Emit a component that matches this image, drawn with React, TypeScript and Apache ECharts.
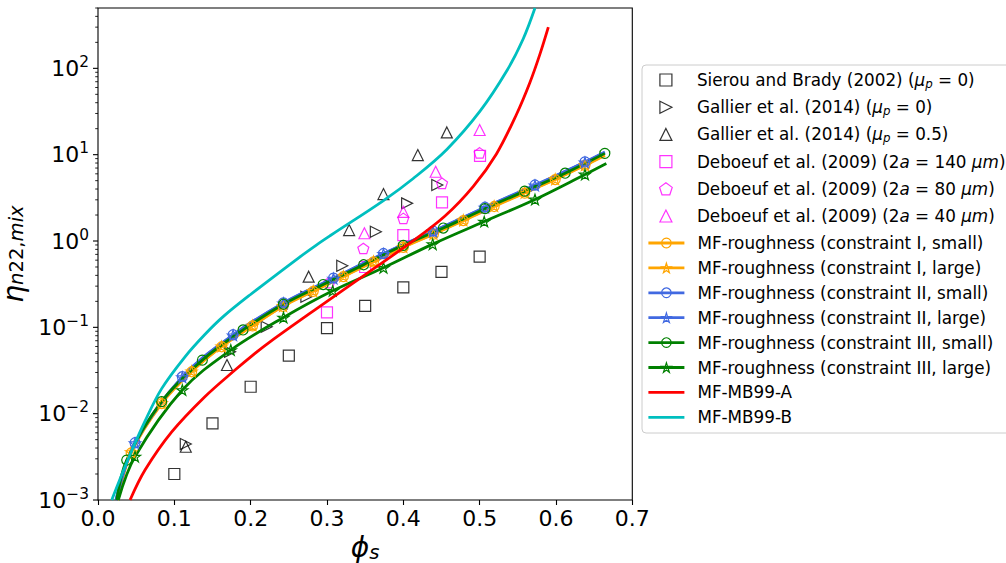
import React, { useEffect, useRef } from 'react';
import * as echarts from 'echarts';

const FONT = 'DejaVu Sans';

// ---- axis layout ----
const X_MIN = 0;
const X_MAX = 0.7;
const Y_MIN = 0.001;
const Y_MAX = 500;
const xTickStep = 0.1;
const yDecades = [0.001, 0.01, 0.1, 1, 10, 100];
const yMinorMultipliers = [2, 3, 4, 5, 6, 7, 8, 9];

// ---- simulations and experiments ----
const sierouPhi = [0.1, 0.15, 0.2, 0.25, 0.3, 0.35, 0.4, 0.45, 0.5];
const sierouEta = [0.002, 0.0077, 0.0205, 0.047, 0.098, 0.177, 0.29, 0.44, 0.66];

const gallierFrictionlessPhi = [0.115, 0.173, 0.221, 0.273, 0.32, 0.364, 0.405, 0.4445];
const gallierFrictionlessEta = [0.00445, 0.052, 0.1016, 0.226, 0.517, 1.28, 2.73, 4.45];

const gallierFrictionPhi = [0.115, 0.169, 0.276, 0.329, 0.374, 0.419, 0.457];
const gallierFrictionEta = [0.00414, 0.0366, 0.386, 1.34, 3.5, 9.9, 18.1];

const deboeuf140Phi = [0.3, 0.35, 0.4, 0.4507, 0.5005];
const deboeuf140Eta = [0.149, 0.5, 1.17, 2.8, 9.7];

const deboeuf80Phi = [0.303, 0.3476, 0.4, 0.4507, 0.5];
const deboeuf80Eta = [0.33, 0.82, 1.83, 4.66, 10.5];

const deboeuf40Phi = [0.349, 0.4, 0.4424, 0.5];
const deboeuf40Eta = [1.23, 2.18, 6.34, 19.3];

// ---- MF-roughness model: marker points of each curve ----
const mfIsmallPhi = [0.0434, 0.0834, 0.1227, 0.162, 0.2025, 0.2425, 0.282, 0.3215, 0.361, 0.4, 0.4395, 0.4786, 0.519, 0.559, 0.599, 0.638];
const mfIsmallEta = [0.0035, 0.0131, 0.0306, 0.0596, 0.104, 0.175, 0.261, 0.387, 0.574, 0.846, 1.2, 1.72, 2.51, 3.59, 5.15, 7.52];

const mfIlargePhi = [0.0434, 0.0834, 0.1227, 0.162, 0.2025, 0.2425, 0.282, 0.3215, 0.361, 0.4, 0.4395, 0.4786, 0.519, 0.559, 0.599, 0.638];
const mfIlargeEta = [0.0036, 0.0133, 0.031, 0.0603, 0.105, 0.177, 0.264, 0.392, 0.58, 0.855, 1.21, 1.74, 2.54, 3.63, 5.2, 7.6];

const mfIIsmallPhi = [0.0485, 0.1105, 0.177, 0.243, 0.3085, 0.374, 0.439, 0.507, 0.5725, 0.638];
const mfIIsmallEta = [0.0046, 0.0268, 0.082, 0.192, 0.372, 0.716, 1.3, 2.46, 4.45, 8.24];

const mfIIlargePhi = [0.0485, 0.1105, 0.177, 0.243, 0.3085, 0.374, 0.439, 0.507, 0.5725, 0.638];
const mfIIlargeEta = [0.00455, 0.0265, 0.081, 0.19, 0.368, 0.71, 1.29, 2.44, 4.4, 8.15];

const mfIIIsmallPhi = [0.0376, 0.0834, 0.1367, 0.19, 0.243, 0.295, 0.348, 0.4, 0.4524, 0.507, 0.559, 0.612, 0.664];
const mfIIIsmallEta = [0.0029, 0.0138, 0.0417, 0.0933, 0.185, 0.313, 0.531, 0.891, 1.413, 2.37, 3.78, 6.1, 10.35];

const mfIIIlargePhi = [0.0485, 0.1105, 0.174, 0.243, 0.3075, 0.374, 0.4385, 0.506, 0.5725, 0.638];
const mfIIIlargeEta = [0.00318, 0.0188, 0.0546, 0.13, 0.265, 0.49, 0.92, 1.68, 3.03, 5.9];

// where each MF-roughness curve rises out of the lower axis limit, and where it ends
const mfStartPhi = [0.0255, 0.0255, 0.0235, 0.0235, 0.0245, 0.0266];
const mfEndPhi = [0.664, 0.664, 0.664, 0.664, 0.664, 0.666];
const mfEndEta = [9.8, 9.9, 10.75, 10.6, 10.35, 7.9];

// ---- MF-MB99 curves ----
const mb99aPhi = [0.042, 0.0616, 0.0966, 0.14, 0.1795, 0.2057, 0.2253, 0.2865, 0.352, 0.409, 0.4546, 0.4917, 0.522, 0.5485, 0.566, 0.579, 0.59];
const mb99aEta = [0.001, 0.00222, 0.00614, 0.0157, 0.032, 0.05, 0.068, 0.165, 0.42, 0.95, 1.95, 4.3, 10.2, 29.6, 69, 146, 300];

const mb99bPhi = [0.018, 0.0397, 0.0616, 0.0834, 0.114, 0.14, 0.164, 0.199, 0.2647, 0.2865, 0.304, 0.374, 0.413, 0.457, 0.5005, 0.5354, 0.557, 0.5725];
const mb99bEta = [0.001, 0.003, 0.0082, 0.0195, 0.0456, 0.0826, 0.133, 0.237, 0.656, 0.904, 1.15, 2.94, 5.3, 11.5, 31.9, 93, 219, 500];

// ---- names ----
const N_SIEROU = 'Sierou and Brady (2002) (μp = 0)';
const N_GAL0 = 'Gallier et al. (2014) (μp = 0)';
const N_GAL5 = 'Gallier et al. (2014) (μp = 0.5)';
const N_DEB140 = 'Deboeuf et al. (2009) (2a = 140 μm)';
const N_DEB80 = 'Deboeuf et al. (2009) (2a = 80 μm)';
const N_DEB40 = 'Deboeuf et al. (2009) (2a = 40 μm)';
const mfNames = [
  'MF-roughness (constraint I, small)',
  'MF-roughness (constraint I, large)',
  'MF-roughness (constraint II, small)',
  'MF-roughness (constraint II, large)',
  'MF-roughness (constraint III, small)',
  'MF-roughness (constraint III, large)',
];
const N_MBA = 'MF-MB99-A';
const N_MBB = 'MF-MB99-B';

const legendRich: Record<string, string> = {
  [N_SIEROU]: 'Sierou and Brady (2002) ({i|μ}{s|p} = 0)',
  [N_GAL0]: 'Gallier et al. (2014) ({i|μ}{s|p} = 0)',
  [N_GAL5]: 'Gallier et al. (2014) ({i|μ}{s|p} = 0.5)',
  [N_DEB140]: 'Deboeuf et al. (2009) (2{i|a} = 140 {i|μm})',
  [N_DEB80]: 'Deboeuf et al. (2009) (2{i|a} = 80 {i|μm})',
  [N_DEB40]: 'Deboeuf et al. (2009) (2{i|a} = 40 {i|μm})',
};

// ---- colours and marker shapes ----
const BLACK = '#000000';
const MAGENTA = '#ff00ff';
const ORANGE = '#ffa500';
const ROYAL = '#4169e1';
const GREEN = '#008000';
const RED = '#ff0000';
const CYAN = '#00bfbf';

const SQUARE = 'path://M0,0H1V1H0Z';
const UP_TRI = 'path://M0.5,0L1,1L0,1Z';
const RIGHT_TRI = 'path://M0,0L1,0.5L0,1Z';
const STAR = 'path://M0,-1L0.2245,-0.309L0.951,-0.309L0.3633,0.118L0.5878,0.809L0,0.382L-0.5878,0.809L-0.3633,0.118L-0.951,-0.309L-0.2245,-0.309Z';
const PENTAGON = 'path://M0,-1L0.951,-0.309L0.5878,0.809L-0.5878,0.809L-0.951,-0.309Z';
const LEGEND_LINE = 'path://M0,0H36V2.8H0Z';

const pairs = (xs: number[], ys: number[]) => xs.map((x, i) => [x, ys[i]]);

function mfLineData(start: number, phi: number[], eta: number[], endPhi: number, endEta: number) {
  const pts: any[] = [{ value: [start, Y_MIN], symbol: 'none' }];
  phi.forEach((p, i) => pts.push({ value: [p, eta[i]] }));
  if (endPhi > phi[phi.length - 1]) pts.push({ value: [endPhi, endEta], symbol: 'none' });
  return pts;
}

function scatter(name: string, phi: number[], eta: number[], symbol: string, color: string) {
  return {
    type: 'scatter',
    name,
    data: pairs(phi, eta),
    symbol,
    symbolSize: 11,
    symbolKeepAspect: true,
    itemStyle: { color: 'rgba(0,0,0,0)', borderColor: color, borderWidth: 1.2 },
    z: 3,
  };
}

const mfPhi = [mfIsmallPhi, mfIlargePhi, mfIIsmallPhi, mfIIlargePhi, mfIIIsmallPhi, mfIIIlargePhi];
const mfEta = [mfIsmallEta, mfIlargeEta, mfIIsmallEta, mfIIlargeEta, mfIIIsmallEta, mfIIIlargeEta];
const mfColors = [ORANGE, ORANGE, ROYAL, ROYAL, GREEN, GREEN];
const mfSymbols = ['circle', STAR, 'circle', STAR, 'circle', STAR];

function superscriptLabel(v: number) {
  const k = Math.round(Math.log10(v));
  if (Math.abs(v / Math.pow(10, k) - 1) > 1e-6) return '';
  const exp = k < 0 ? '\u2212' + String(-k) : String(k);
  return '{b|10}{sup|' + exp + '}';
}

function tickSeries(values: number[], len: number, width: number) {
  return {
    type: 'custom',
    silent: true,
    clip: false,
    z: 10,
    data: values.map((v) => [X_MIN, v]),
    encode: { x: 0, y: 1 },
    renderItem: (_params: any, api: any) => {
      const p = api.coord([X_MIN, api.value(1)]);
      return {
        type: 'line',
        shape: { x1: p[0] - len, y1: p[1], x2: p[0], y2: p[1] },
        style: { stroke: BLACK, lineWidth: width },
      };
    },
  };
}

export default function App() {
  const ref = useRef<HTMLDivElement>(null);

  useEffect(() => {
    document.body.style.margin = '0';
    if (!ref.current) return;
    const chart = echarts.init(ref.current, undefined, { renderer: 'svg' });

    const yMinor: number[] = [];
    yDecades.forEach((d) => yMinorMultipliers.forEach((m) => {
      const v = d * m;
      if (v <= Y_MAX * 1.0001) yMinor.push(v);
    }));

    const mfSeries = mfNames.map((name, i) => ({
      type: 'line',
      name,
      data: mfLineData(mfStartPhi[i], mfPhi[i], mfEta[i], mfEndPhi[i], mfEndEta[i]),
      smooth: 0.35,
      symbol: mfSymbols[i],
      symbolSize: mfSymbols[i] === 'circle' ? 10 : 11,
      symbolKeepAspect: true,
      showSymbol: true,
      lineStyle: { color: mfColors[i], width: 2.8 },
      itemStyle: { color: 'rgba(0,0,0,0)', borderColor: mfColors[i], borderWidth: 1.2 },
      z: 4,
    }));

    const mbSeries = [
      { name: N_MBA, phi: mb99aPhi, eta: mb99aEta, color: RED },
      { name: N_MBB, phi: mb99bPhi, eta: mb99bEta, color: CYAN },
    ].map((s) => ({
      type: 'line',
      name: s.name,
      data: pairs(s.phi, s.eta),
      smooth: 0.35,
      symbol: 'none',
      lineStyle: { color: s.color, width: 2.8 },
      itemStyle: { color: s.color },
      z: 5,
    }));

    const legendText = {
      fontFamily: FONT,
      fontSize: 16.8,
      color: BLACK,
      lineHeight: 20,
      padding: [0, 0, 0, 8],
    };

    const option: any = {
      animation: false,
      backgroundColor: '#ffffff',
      textStyle: { fontFamily: FONT },
      grid: {
        left: 98,
        right: 373.7,
        top: 8,
        bottom: 63,
        containLabel: false,
        outerBoundsMode: 'none',
        show: true,
        borderColor: BLACK,
        borderWidth: 1.1,
        backgroundColor: 'rgba(0,0,0,0)',
      },
      xAxis: {
        type: 'value',
        min: X_MIN,
        max: X_MAX,
        interval: xTickStep,
        axisLine: { show: false },
        axisTick: { show: true, length: 5, lineStyle: { color: BLACK, width: 1.1 } },
        splitLine: { show: false },
        axisLabel: {
          formatter: (v: number) => v.toFixed(1),
          fontFamily: FONT,
          fontSize: 22,
          color: BLACK,
          margin: 7,
        },
        name: '{i|ϕ}{s|s}',
        nameLocation: 'middle',
        nameGap: 30,
        nameTextStyle: {
          rich: {
            i: { fontFamily: FONT, fontStyle: 'italic', fontSize: 28, lineHeight: 30, color: BLACK },
            s: { fontFamily: FONT, fontStyle: 'italic', fontSize: 19.6, lineHeight: 14, verticalAlign: 'bottom', color: BLACK },
          },
        },
      },
      yAxis: {
        type: 'log',
        logBase: 10,
        min: Y_MIN,
        max: Y_MAX,
        axisLine: { show: false },
        axisTick: { show: false },
        minorTick: { show: false },
        splitLine: { show: false },
        axisLabel: {
          formatter: superscriptLabel,
          showMaxLabel: false,
          margin: 9,
          rich: {
            b: { fontFamily: FONT, fontSize: 22, lineHeight: 28, color: BLACK },
            sup: { fontFamily: FONT, fontSize: 15.4, lineHeight: 13, verticalAlign: 'top', color: BLACK },
          },
        },
        name: '{e|η}{si|n}{su|22,}{si|mix}',
        nameLocation: 'middle',
        nameRotate: 90,
        nameGap: 60,
        nameTextStyle: {
          rich: {
            e: { fontFamily: FONT, fontStyle: 'italic', fontSize: 28, lineHeight: 26, color: BLACK },
            si: { fontFamily: FONT, fontStyle: 'italic', fontSize: 19.6, lineHeight: 12, verticalAlign: 'bottom', color: BLACK },
            su: { fontFamily: FONT, fontSize: 19.6, lineHeight: 12, verticalAlign: 'bottom', color: BLACK },
          },
        },
      },
      graphic: [
        {
          type: 'rect',
          z: 1,
          silent: true,
          shape: { x: 642, y: 65, width: 380, height: 368, r: 4 },
          style: { fill: 'rgba(255,255,255,0.8)', stroke: '#cccccc', lineWidth: 1 },
        },
      ],
      legend: [
        {
          // marker-only icons are 12px wide and centred in a 36px slot,
          // so the box is shifted by the 12px of empty slot on the left
          orient: 'vertical',
          left: 659,
          top: 70,
          padding: 0,
          itemGap: 7.2,
          itemWidth: 36,
          itemHeight: 12,
          symbolKeepAspect: true,
          selectedMode: false,
          itemStyle: { borderWidth: 1.2 },
          data: [N_SIEROU, N_GAL0, N_GAL5, N_DEB140, N_DEB80, N_DEB40],
          formatter: (name: string) => legendRich[name] || name,
          textStyle: {
            ...legendText,
            rich: {
              i: { fontFamily: FONT, fontStyle: 'italic', fontSize: 16.8, lineHeight: 20, color: BLACK },
              s: { fontFamily: FONT, fontStyle: 'italic', fontSize: 11.8, lineHeight: 10, verticalAlign: 'bottom', color: BLACK },
            },
          },
        },
        {
          orient: 'vertical',
          left: 647,
          top: 233,
          padding: 0,
          itemGap: 4.9,
          itemWidth: 36,
          itemHeight: 12,
          selectedMode: false,
          data: [
            ...mfNames.map((name, i) => ({
              name,
              itemStyle: { color: 'rgba(0,0,0,0)', borderColor: mfColors[i], borderWidth: 1.2 },
              lineStyle: { color: mfColors[i], width: 2.8 },
            })),
            { name: N_MBA, icon: LEGEND_LINE, itemStyle: { color: RED, borderWidth: 0 } },
            { name: N_MBB, icon: LEGEND_LINE, itemStyle: { color: CYAN, borderWidth: 0 } },
          ],
          textStyle: legendText,
        },
      ],
      series: [
        scatter(N_SIEROU, sierouPhi, sierouEta, SQUARE, BLACK),
        scatter(N_GAL0, gallierFrictionlessPhi, gallierFrictionlessEta, RIGHT_TRI, BLACK),
        scatter(N_GAL5, gallierFrictionPhi, gallierFrictionEta, UP_TRI, BLACK),
        scatter(N_DEB140, deboeuf140Phi, deboeuf140Eta, SQUARE, MAGENTA),
        scatter(N_DEB80, deboeuf80Phi, deboeuf80Eta, PENTAGON, MAGENTA),
        scatter(N_DEB40, deboeuf40Phi, deboeuf40Eta, UP_TRI, MAGENTA),
        ...mfSeries,
        ...mbSeries,
        tickSeries(yDecades, 5, 1.1),
        tickSeries(yMinor, 2.8, 0.85),
      ],
    };

    chart.setOption(option);
    return () => chart.dispose();
  }, []);

  return <div ref={ref} style={{ width: 1006, height: 563 }} />;
}
